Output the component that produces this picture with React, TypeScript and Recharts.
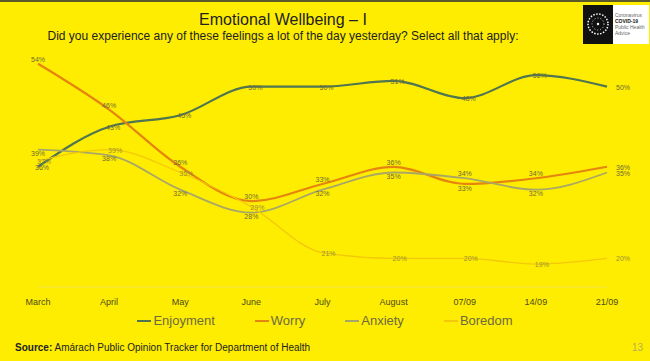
import React from "react";
import { LineChart, Line, XAxis, YAxis } from "recharts";

const categories = ["March", "April", "May", "June", "July", "August", "07/09", "14/09", "21/09"];
const enjoyment = [36, 43, 45, 50, 50, 51, 48, 52, 50];
const worry = [54, 46, 36, 30, 33, 36, 33, 34, 36];
const anxiety = [39, 38, 32, 28, 32, 35, 34, 32, 35];
const boredom = [37, 39, 35, 29, 21, 20, 20, 19, 20];

const series = [
  { key: "Enjoyment", values: enjoyment, color: "#4f7551", width: 2.2, dx: 4, dy: 3, labelColor: "#6e6a3c" },
  { key: "Worry", values: worry, color: "#e5840f", width: 2.2, dx: 0, dy: -2, labelColor: "#6e6a3c" },
  { key: "Anxiety", values: anxiety, color: "#a9a766", width: 1.8, dx: 0, dy: 6, labelColor: "#6e6a3c" },
  { key: "Boredom", values: boredom, color: "#f3c80a", width: 1.3, dx: 6, dy: 3, labelColor: "#9a8f3a" },
];

const data = categories.map((c, i) => {
  const row: any = { name: c };
  series.forEach((s) => (row[s.key] = s.values[i]));
  return row;
});

const makeLabel = (s: any) => (props: any) => {
  const { x, y, value, index } = props;
  const last = index === categories.length - 1;
  let dy = s.dy;
  if (s.key === "Worry" && worry[index] < anxiety[index]) dy = 7;
  if (s.key === "Anxiety" && anxiety[index] > worry[index] && index > 2) dy = -2;
  return (
    <text
      x={x + (last ? 16 : s.dx)}
      y={y + (last ? 3 : dy)}
      textAnchor="middle"
      fontSize={7}
      fill={s.labelColor}
      fontFamily="Liberation Sans, Arial, sans-serif"
    >
      {value}%
    </text>
  );
};

const Tick = (props: any) => {
  const { x, y, payload } = props;
  return (
    <text x={x} y={y + 10} textAnchor="middle" fontSize={9} fill="#4d4a1f" fontFamily="Liberation Sans, Arial, sans-serif">
      {payload.value}
    </text>
  );
};

export default function App() {
  const font = "Liberation Sans, Arial, sans-serif";
  return (
    <div style={{ position: "absolute", left: 0, top: 0, width: 650, height: 361, background: "#feed00", overflow: "hidden", fontFamily: font }}>
      <div style={{ position: "absolute", left: 0, top: 0, width: 650, height: 2, background: "#5a5a2a" }} />
      <div style={{ position: "absolute", left: 0, top: 11, width: 566, textAlign: "center", fontSize: 16, color: "#222" }}>
        Emotional Wellbeing – I
      </div>
      <div style={{ position: "absolute", left: 0, top: 29, width: 566, textAlign: "center", fontSize: 12, color: "#222" }}>
        Did you experience any of these feelings a lot of the day yesterday? Select all that apply:
      </div>
      <div style={{ position: "absolute", left: 583, top: 5, width: 66, height: 39, background: "#fff" }}>
        <div style={{ position: "absolute", left: 0, top: 0, width: 30, height: 39, background: "#111" }}>
          <svg width={30} height={39}>
            <circle cx={15} cy={19} r={10} fill="none" stroke="#fff" strokeWidth={1.5} strokeDasharray="1.5 1.5" />
            <circle cx={15} cy={19} r={6} fill="none" stroke="#fff" strokeWidth={0.8} strokeDasharray="1 2" />
            <circle cx={15} cy={19} r={1.2} fill="#fff" />
          </svg>
        </div>
        <div style={{ position: "absolute", left: 32, top: 7, fontSize: 5, lineHeight: "6px", color: "#666" }}>
          Coronavirus
          <br />
          <b style={{ color: "#111" }}>COVID-19</b>
          <br />
          Public Health
          <br />
          Advice
        </div>
      </div>
      <div style={{ position: "absolute", left: 0, top: 0 }}>
        <LineChart width={650} height={361} data={data} margin={{ top: 58, right: 43, bottom: 44, left: 38 }}>
          <XAxis dataKey="name" height={30} tickLine={false} axisLine={{ stroke: "#f2e34a" }} tick={<Tick />} interval={0} />
          <YAxis hide domain={[15, 55]} />
          {series.map((s) => (
            <Line
              key={s.key}
              dataKey={s.key}
              type="monotone"
              stroke={s.color}
              strokeWidth={s.width}
              dot={false}
              isAnimationActive={false}
              label={makeLabel(s)}
            />
          ))}
        </LineChart>
      </div>
      <div style={{ position: "absolute", left: 0, top: 313, width: 650, display: "flex", justifyContent: "center", gap: 40 }}>
        {series.map((s) => (
          <div key={s.key} style={{ display: "flex", alignItems: "center" }}>
            <div style={{ width: 14, height: 2, background: s.color, marginRight: 2 }} />
            <span style={{ fontSize: 13, color: "#6d6a3f" }}>{s.key}</span>
          </div>
        ))}
      </div>
      <div style={{ position: "absolute", left: 15, top: 342, fontSize: 10, color: "#222" }}>
        <b>Source:</b> Amárach Public Opinion Tracker for Department of Health
      </div>
      <div style={{ position: "absolute", left: 632, top: 342, fontSize: 10, color: "#b9ae50" }}>13</div>
    </div>
  );
}
